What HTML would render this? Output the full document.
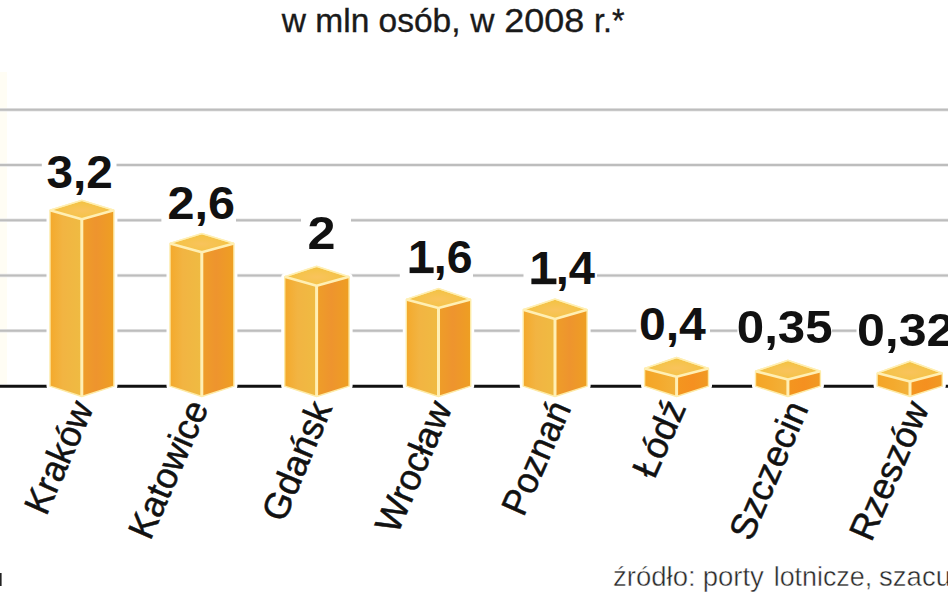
<!DOCTYPE html>
<html lang="pl"><head><meta charset="utf-8"><title>Wykres</title>
<style>html,body{margin:0;padding:0;background:#fff}body{width:948px;height:593px;overflow:hidden}svg{display:block}text{font-family:"Liberation Sans",sans-serif}</style></head><body>
<svg width="948" height="593" viewBox="0 0 948 593">
<defs>
<linearGradient id="gl" x1="0" y1="0" x2="1" y2="0"><stop offset="0" stop-color="#f4a92b"/><stop offset="0.4" stop-color="#f2b442"/><stop offset="1" stop-color="#efbb42"/></linearGradient>
<linearGradient id="gr" x1="0" y1="0" x2="1" y2="0"><stop offset="0" stop-color="#ee9e28"/><stop offset="0.45" stop-color="#ee942e"/><stop offset="1" stop-color="#ee9f22"/></linearGradient>
<linearGradient id="gl2" x1="0" y1="0" x2="1" y2="0"><stop offset="0" stop-color="#f4a526"/><stop offset="0.5" stop-color="#f4aa2e"/><stop offset="1" stop-color="#f2b23a"/></linearGradient>
<linearGradient id="gr2" x1="0" y1="0" x2="1" y2="0"><stop offset="0" stop-color="#f3961f"/><stop offset="0.5" stop-color="#f59020"/><stop offset="1" stop-color="#f09a22"/></linearGradient>
<radialGradient id="gt" cx="0.5" cy="0.55" r="0.5"><stop offset="0" stop-color="#f9c35c"/><stop offset="1" stop-color="#f3c343"/></radialGradient>
</defs>
<rect width="948" height="593" fill="#fff"/>
<rect x="0" y="72" width="7" height="312" fill="#fffdf4"/>
<line x1="0" y1="109.7" x2="948" y2="109.7" stroke="#e6e6e6" stroke-width="3.4"/>
<line x1="0" y1="109.7" x2="948" y2="109.7" stroke="#bdbdbd" stroke-width="1.9"/>
<line x1="0" y1="165.0" x2="948" y2="165.0" stroke="#e6e6e6" stroke-width="3.4"/>
<line x1="0" y1="165.0" x2="948" y2="165.0" stroke="#bdbdbd" stroke-width="1.9"/>
<line x1="0" y1="220.3" x2="948" y2="220.3" stroke="#e6e6e6" stroke-width="3.4"/>
<line x1="0" y1="220.3" x2="948" y2="220.3" stroke="#bdbdbd" stroke-width="1.9"/>
<line x1="0" y1="275.5" x2="948" y2="275.5" stroke="#e6e6e6" stroke-width="3.4"/>
<line x1="0" y1="275.5" x2="948" y2="275.5" stroke="#bdbdbd" stroke-width="1.9"/>
<line x1="0" y1="330.8" x2="948" y2="330.8" stroke="#e6e6e6" stroke-width="3.4"/>
<line x1="0" y1="330.8" x2="948" y2="330.8" stroke="#bdbdbd" stroke-width="1.9"/>
<line x1="0" y1="386.2" x2="948" y2="386.2" stroke="#111" stroke-width="3"/>
<rect x="41.8" y="150.0" width="74.7" height="46.0" fill="#fff"/>
<rect x="161.4" y="180.0" width="74.6" height="48.0" fill="#fff"/>
<rect x="301.0" y="210.0" width="50.0" height="46.0" fill="#fff"/>
<rect x="399.8" y="235.0" width="73.2" height="48.0" fill="#fff"/>
<rect x="523.5" y="246.0" width="73.5" height="48.0" fill="#fff"/>
<rect x="636.3" y="302.0" width="73.7" height="48.0" fill="#fff"/>
<rect x="737.4" y="305.0" width="94.6" height="47.0" fill="#fff"/>
<rect x="856.5" y="308.0" width="91.5" height="47.0" fill="#fff"/>
<polygon points="50.0,210.2 81.8,200.4 113.9,210.2 113.9,386.2 81.8,396.5 50.0,386.2" fill="#fff" stroke="#fff" stroke-width="7" stroke-linejoin="round"/>
<polygon points="50.0,210.2 81.8,219.2 81.8,396.5 50.0,386.2" fill="url(#gl)"/>
<polygon points="81.8,219.2 113.9,210.2 113.9,386.2 81.8,396.5" fill="url(#gr)"/>
<polygon points="50.0,210.2 81.8,200.4 113.9,210.2 81.8,219.2" fill="url(#gt)"/>
<polygon points="50.0,210.2 81.8,200.4 113.9,210.2 113.9,386.2 81.8,396.5 50.0,386.2" fill="none" stroke="#fdeaa6" stroke-width="1.4" stroke-linejoin="round"/>
<polyline points="50.0,210.2 81.8,219.2 113.9,210.2" fill="none" stroke="#ffefb4" stroke-width="2.6" stroke-linejoin="round"/>
<polyline points="50.0,210.2 81.8,200.4 113.9,210.2" fill="none" stroke="#ffefb4" stroke-width="1.5" opacity="0.9"/>
<line x1="81.8" y1="219.2" x2="81.8" y2="396.5" stroke="#ffefb4" stroke-width="3"/>
<polygon points="170.0,243.4 201.8,233.6 233.9,243.4 233.9,386.2 201.8,396.5 170.0,386.2" fill="#fff" stroke="#fff" stroke-width="7" stroke-linejoin="round"/>
<polygon points="170.0,243.4 201.8,252.3 201.8,396.5 170.0,386.2" fill="url(#gl)"/>
<polygon points="201.8,252.3 233.9,243.4 233.9,386.2 201.8,396.5" fill="url(#gr)"/>
<polygon points="170.0,243.4 201.8,233.6 233.9,243.4 201.8,252.3" fill="url(#gt)"/>
<polygon points="170.0,243.4 201.8,233.6 233.9,243.4 233.9,386.2 201.8,396.5 170.0,386.2" fill="none" stroke="#fdeaa6" stroke-width="1.4" stroke-linejoin="round"/>
<polyline points="170.0,243.4 201.8,252.3 233.9,243.4" fill="none" stroke="#ffefb4" stroke-width="2.6" stroke-linejoin="round"/>
<polyline points="170.0,243.4 201.8,233.6 233.9,243.4" fill="none" stroke="#ffefb4" stroke-width="1.5" opacity="0.9"/>
<line x1="201.8" y1="252.3" x2="201.8" y2="396.5" stroke="#ffefb4" stroke-width="3"/>
<polygon points="284.7,276.8 316.6,266.4 349.1,276.8 349.1,386.2 316.6,396.5 284.7,386.2" fill="#fff" stroke="#fff" stroke-width="7" stroke-linejoin="round"/>
<polygon points="284.7,276.8 316.6,285.7 316.6,396.5 284.7,386.2" fill="url(#gl)"/>
<polygon points="316.6,285.7 349.1,276.8 349.1,386.2 316.6,396.5" fill="url(#gr)"/>
<polygon points="284.7,276.8 316.6,266.4 349.1,276.8 316.6,285.7" fill="url(#gt)"/>
<polygon points="284.7,276.8 316.6,266.4 349.1,276.8 349.1,386.2 316.6,396.5 284.7,386.2" fill="none" stroke="#fdeaa6" stroke-width="1.4" stroke-linejoin="round"/>
<polyline points="284.7,276.8 316.6,285.7 349.1,276.8" fill="none" stroke="#ffefb4" stroke-width="2.6" stroke-linejoin="round"/>
<polyline points="284.7,276.8 316.6,266.4 349.1,276.8" fill="none" stroke="#ffefb4" stroke-width="1.5" opacity="0.9"/>
<line x1="316.6" y1="285.7" x2="316.6" y2="396.5" stroke="#ffefb4" stroke-width="3"/>
<polygon points="406.3,299.4 438.5,288.6 470.7,299.4 470.7,386.2 438.5,396.5 406.3,386.2" fill="#fff" stroke="#fff" stroke-width="7" stroke-linejoin="round"/>
<polygon points="406.3,299.4 438.5,307.9 438.5,396.5 406.3,386.2" fill="url(#gl)"/>
<polygon points="438.5,307.9 470.7,299.4 470.7,386.2 438.5,396.5" fill="url(#gr)"/>
<polygon points="406.3,299.4 438.5,288.6 470.7,299.4 438.5,307.9" fill="url(#gt)"/>
<polygon points="406.3,299.4 438.5,288.6 470.7,299.4 470.7,386.2 438.5,396.5 406.3,386.2" fill="none" stroke="#fdeaa6" stroke-width="1.4" stroke-linejoin="round"/>
<polyline points="406.3,299.4 438.5,307.9 470.7,299.4" fill="none" stroke="#ffefb4" stroke-width="2.6" stroke-linejoin="round"/>
<polyline points="406.3,299.4 438.5,288.6 470.7,299.4" fill="none" stroke="#ffefb4" stroke-width="1.5" opacity="0.9"/>
<line x1="438.5" y1="307.9" x2="438.5" y2="396.5" stroke="#ffefb4" stroke-width="3"/>
<polygon points="523.2,309.7 555.0,299.1 587.1,309.7 587.1,386.2 555.0,396.5 523.2,386.2" fill="#fff" stroke="#fff" stroke-width="7" stroke-linejoin="round"/>
<polygon points="523.2,309.7 555.0,318.9 555.0,396.5 523.2,386.2" fill="url(#gl)"/>
<polygon points="555.0,318.9 587.1,309.7 587.1,386.2 555.0,396.5" fill="url(#gr)"/>
<polygon points="523.2,309.7 555.0,299.1 587.1,309.7 555.0,318.9" fill="url(#gt)"/>
<polygon points="523.2,309.7 555.0,299.1 587.1,309.7 587.1,386.2 555.0,396.5 523.2,386.2" fill="none" stroke="#fdeaa6" stroke-width="1.4" stroke-linejoin="round"/>
<polyline points="523.2,309.7 555.0,318.9 587.1,309.7" fill="none" stroke="#ffefb4" stroke-width="2.6" stroke-linejoin="round"/>
<polyline points="523.2,309.7 555.0,299.1 587.1,309.7" fill="none" stroke="#ffefb4" stroke-width="1.5" opacity="0.9"/>
<line x1="555.0" y1="318.9" x2="555.0" y2="396.5" stroke="#ffefb4" stroke-width="3"/>
<polygon points="644.6,368.4 676.6,357.5 708.5,368.4 708.5,386.2 676.6,396.5 644.6,386.2" fill="#fff" stroke="#fff" stroke-width="7" stroke-linejoin="round"/>
<polygon points="644.6,368.4 676.6,376.7 676.6,396.5 644.6,386.2" fill="url(#gl2)"/>
<polygon points="676.6,376.7 708.5,368.4 708.5,386.2 676.6,396.5" fill="url(#gr2)"/>
<polygon points="644.6,368.4 676.6,357.5 708.5,368.4 676.6,376.7" fill="url(#gt)"/>
<polygon points="644.6,368.4 676.6,357.5 708.5,368.4 708.5,386.2 676.6,396.5 644.6,386.2" fill="none" stroke="#fdeaa6" stroke-width="1.4" stroke-linejoin="round"/>
<polyline points="644.6,368.4 676.6,376.7 708.5,368.4" fill="none" stroke="#ffefb4" stroke-width="2.6" stroke-linejoin="round"/>
<polyline points="644.6,368.4 676.6,357.5 708.5,368.4" fill="none" stroke="#ffefb4" stroke-width="1.5" opacity="0.9"/>
<line x1="676.6" y1="376.7" x2="676.6" y2="396.5" stroke="#ffefb4" stroke-width="3"/>
<polygon points="755.5,371.2 787.9,360.3 820.4,371.2 820.4,386.2 787.9,396.5 755.5,386.2" fill="#fff" stroke="#fff" stroke-width="7" stroke-linejoin="round"/>
<polygon points="755.5,371.2 787.9,379.5 787.9,396.5 755.5,386.2" fill="url(#gl2)"/>
<polygon points="787.9,379.5 820.4,371.2 820.4,386.2 787.9,396.5" fill="url(#gr2)"/>
<polygon points="755.5,371.2 787.9,360.3 820.4,371.2 787.9,379.5" fill="url(#gt)"/>
<polygon points="755.5,371.2 787.9,360.3 820.4,371.2 820.4,386.2 787.9,396.5 755.5,386.2" fill="none" stroke="#fdeaa6" stroke-width="1.4" stroke-linejoin="round"/>
<polyline points="755.5,371.2 787.9,379.5 820.4,371.2" fill="none" stroke="#ffefb4" stroke-width="2.6" stroke-linejoin="round"/>
<polyline points="755.5,371.2 787.9,360.3 820.4,371.2" fill="none" stroke="#ffefb4" stroke-width="1.5" opacity="0.9"/>
<line x1="787.9" y1="379.5" x2="787.9" y2="396.5" stroke="#ffefb4" stroke-width="3"/>
<polygon points="877.1,373.1 910.0,361.2 942.3,373.1 942.3,386.2 910.0,396.5 877.1,386.2" fill="#fff" stroke="#fff" stroke-width="7" stroke-linejoin="round"/>
<polygon points="877.1,373.1 910.0,381.4 910.0,396.5 877.1,386.2" fill="url(#gl2)"/>
<polygon points="910.0,381.4 942.3,373.1 942.3,386.2 910.0,396.5" fill="url(#gr2)"/>
<polygon points="877.1,373.1 910.0,361.2 942.3,373.1 910.0,381.4" fill="url(#gt)"/>
<polygon points="877.1,373.1 910.0,361.2 942.3,373.1 942.3,386.2 910.0,396.5 877.1,386.2" fill="none" stroke="#fdeaa6" stroke-width="1.4" stroke-linejoin="round"/>
<polyline points="877.1,373.1 910.0,381.4 942.3,373.1" fill="none" stroke="#ffefb4" stroke-width="2.6" stroke-linejoin="round"/>
<polyline points="877.1,373.1 910.0,361.2 942.3,373.1" fill="none" stroke="#ffefb4" stroke-width="1.5" opacity="0.9"/>
<line x1="910.0" y1="381.4" x2="910.0" y2="396.5" stroke="#ffefb4" stroke-width="3"/>
<text x="46.5" y="187.5" font-size="47" font-weight="bold" fill="#111" textLength="66.4" lengthAdjust="spacingAndGlyphs">3,2</text>
<text x="167.5" y="218.6" font-size="47" font-weight="bold" fill="#111" textLength="67.5" lengthAdjust="spacingAndGlyphs">2,6</text>
<text x="307.5" y="248.6" font-size="47" font-weight="bold" fill="#111" textLength="28.0" lengthAdjust="spacingAndGlyphs">2</text>
<text x="408.0" y="273.0" font-size="47" font-weight="bold" fill="#111" textLength="64.5" lengthAdjust="spacingAndGlyphs">1,6</text>
<text x="529.5" y="284.2" font-size="47" font-weight="bold" fill="#111" textLength="65.5" lengthAdjust="spacingAndGlyphs">1,4</text>
<text x="638.9" y="340.0" font-size="47" font-weight="bold" fill="#111" textLength="67.0" lengthAdjust="spacingAndGlyphs">0,4</text>
<text x="736.8" y="342.7" font-size="47" font-weight="bold" fill="#111" textLength="95.8" lengthAdjust="spacingAndGlyphs">0,35</text>
<text x="856.9" y="345.5" font-size="47" font-weight="bold" fill="#111" textLength="97.6" lengthAdjust="spacingAndGlyphs">0,32</text>
<rect x="409.6" y="267.4" width="24" height="5.7" fill="#111"/>
<rect x="531.4" y="278.5" width="25" height="5.7" fill="#111"/>
<g font-size="33.5" fill="#1a1a1a" stroke="#1a1a1a" stroke-width="0.35">
<text x="281.8" y="32.4">w mln osób,</text>
<text x="470.2" y="32.4">w</text>
<text x="504.2" y="32.4" textLength="80" lengthAdjust="spacingAndGlyphs">2008</text>
<text x="594" y="32.4" textLength="30.5" lengthAdjust="spacingAndGlyphs">r.*</text>
</g>
<g font-size="36.6" fill="#111" stroke="#111" stroke-width="0.5">
<text transform="translate(46.30,516.70) rotate(-66.28)" textLength="118.8" lengthAdjust="spacingAndGlyphs">Kraków</text>
<text transform="translate(150.30,541.45) rotate(-66.31)" textLength="146.4" lengthAdjust="spacingAndGlyphs">Katowice</text>
<text transform="translate(283.90,523.50) rotate(-67.14)" textLength="125.3" lengthAdjust="spacingAndGlyphs">Gdańsk</text>
<text transform="translate(397.30,535.50) rotate(-66.55)" textLength="139.0" lengthAdjust="spacingAndGlyphs">Wrocław</text>
<text transform="translate(523.50,517.80) rotate(-66.32)" textLength="120.0" lengthAdjust="spacingAndGlyphs">Poznań</text>
<text transform="translate(654.20,480.20) rotate(-66.07)" textLength="79.9" lengthAdjust="spacingAndGlyphs">Łódź</text>
<text transform="translate(751.20,542.40) rotate(-66.70)" textLength="146.1" lengthAdjust="spacingAndGlyphs">Szczecin</text>
<text transform="translate(871.20,542.90) rotate(-66.47)" textLength="146.8" lengthAdjust="spacingAndGlyphs">Rzeszów</text>
</g>
<g font-size="27.5" fill="#2a2a2a" stroke="#fff" stroke-width="0.45">
<text x="613.1" y="586.2">źródło:</text>
<text x="702.7" y="586.2">porty</text>
<text x="773.7" y="586.2" textLength="98.5" lengthAdjust="spacingAndGlyphs">lotnicze,</text>
<text x="879.1" y="586.2">szacunki</text>
</g>
<rect x="0" y="573" width="1.6" height="13" fill="#222"/>
</svg></body></html>
